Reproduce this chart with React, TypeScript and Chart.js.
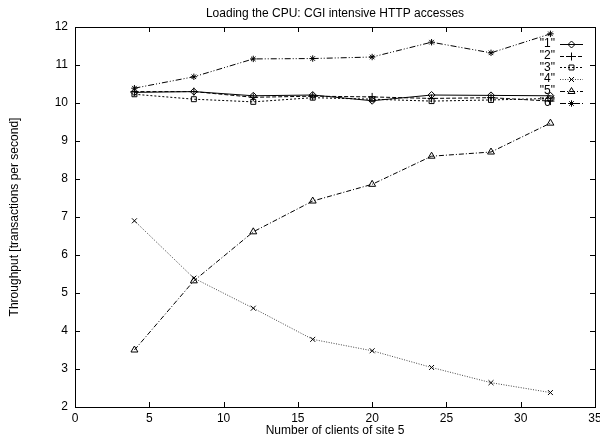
import React, { useEffect, useRef } from 'react';
import { Chart, registerables } from 'chart.js';
import { drawPoint } from 'chart.js/helpers';

Chart.register(...registerables);

const clients = [4, 8, 12, 16, 20, 24, 28, 32];
const series1 = [10.28, 10.30, 10.19, 10.21, 10.06, 10.21, 10.20, 10.19];
const series2 = [10.30, 10.30, 10.15, 10.18, 10.16, 10.12, 10.14, 10.05];
const series3 = [10.23, 10.10, 10.03, 10.14, 10.10, 10.05, 10.08, 10.12];
const series4 = [6.90, 5.39, 4.60, 3.78, 3.48, 3.04, 2.64, 2.38];
const series5 = [3.50, 5.32, 6.61, 7.42, 7.86, 8.60, 8.71, 9.47];
const series6 = [10.39, 10.69, 11.16, 11.17, 11.21, 11.60, 11.32, 11.82];
const seriesLabels = ['"1"', '"2"', '"3"', '"4"', '"5"', '"6"'];
const titleText = 'Loading the CPU: CGI intensive HTTP accesses';
const xTitle = 'Number of clients of site 5';
const yTitle = 'Throughput [transactions per second]';

const FONT = "'Liberation Sans', Arial, Helvetica, sans-serif";
const FS = 12;

const styles = [
  { dash: [], point: 'rectRot', r: 3.5, color: '#000' },
  { dash: [4, 2], point: 'cross', r: 4, color: '#000' },
  { dash: [2, 2], point: 'rect', r: 3.5, color: '#000' },
  { dash: [1, 1.5], point: 'crossRot', r: 3.5, color: '#444' },
  { dash: [5, 2, 1, 2], point: 'triangle', r: 4, color: '#000' },
  { dash: [6, 2, 1, 2, 1, 2], point: 'star', r: 3.2, color: '#000' },
];

const allSeries = [series1, series2, series3, series4, series5, series6];

const framePlugin = {
  id: 'gnuFrame',
  afterDraw(chart: any) {
    const { ctx, chartArea: a, scales } = chart;
    const xs = scales.x;
    const ys = scales.y;
    ctx.save();
    // title, centred over the plot area
    ctx.fillStyle = '#000';
    ctx.font = `${FS}px ${FONT}`;
    ctx.textAlign = 'center';
    ctx.textBaseline = 'middle';
    ctx.fillText(titleText, (a.left + a.right) / 2, 14);

    ctx.strokeStyle = '#000';
    ctx.lineWidth = 1;
    ctx.setLineDash([]);
    ctx.strokeRect(Math.round(a.left) + 0.5, Math.round(a.top) + 0.5, Math.round(a.right - a.left), Math.round(a.bottom - a.top));
    const tl = 5;
    ctx.beginPath();
    xs.ticks.forEach((t: any) => {
      const px = Math.round(xs.getPixelForValue(t.value)) + 0.5;
      ctx.moveTo(px, a.bottom);
      ctx.lineTo(px, a.bottom - tl);
      ctx.moveTo(px, a.top);
      ctx.lineTo(px, a.top + tl);
    });
    ys.ticks.forEach((t: any) => {
      const py = Math.round(ys.getPixelForValue(t.value)) + 0.5;
      ctx.moveTo(a.left, py);
      ctx.lineTo(a.left + tl, py);
      ctx.moveTo(a.right, py);
      ctx.lineTo(a.right - tl, py);
    });
    ctx.stroke();

    // legend (gnuplot style: text then sample)
    ctx.font = `${FS}px ${FONT}`;
    ctx.textAlign = 'right';
    ctx.textBaseline = 'middle';
    chart.data.datasets.forEach((ds: any, i: number) => {
      const y = 44 + i * 11.7;
      ctx.fillStyle = '#000';
      ctx.fillText(ds.label, 555, y);
      ctx.strokeStyle = ds.borderColor;
      ctx.lineWidth = 1;
      ctx.setLineDash(ds.borderDash || []);
      ctx.beginPath();
      ctx.moveTo(560, Math.round(y) + 0.5);
      ctx.lineTo(583, Math.round(y) + 0.5);
      ctx.stroke();
      ctx.setLineDash([]);
      ctx.strokeStyle = '#000';
      ctx.fillStyle = 'rgba(0,0,0,0)';
      drawPoint(ctx, { pointStyle: ds.pointStyle, radius: ds.pointRadius, rotation: 0, borderWidth: 1 }, 571.5, Math.round(y) + 0.5);
    });
    ctx.restore();
  },
};

export default function App() {
  const ref = useRef<HTMLCanvasElement>(null);
  useEffect(() => {
    document.body.style.margin = '0';
    const datasets = allSeries.map((s, i) => ({
      label: seriesLabels[i],
      data: clients.map((c, j) => ({ x: c, y: s[j] })),
      borderColor: styles[i].color,
      borderWidth: 1,
      borderDash: styles[i].dash,
      pointStyle: styles[i].point,
      pointRadius: styles[i].r,
      pointBorderColor: '#000',
      pointBackgroundColor: 'rgba(0,0,0,0)',
      pointBorderWidth: 1,
      tension: 0,
      fill: false,
    }));
    const chart = new Chart(ref.current as HTMLCanvasElement, {
      type: 'line',
      data: { datasets },
      options: {
        animation: false,
        responsive: false,
        layout: { padding: { left: 0, right: 5, top: 27, bottom: 0 } },
        plugins: {
          legend: { display: false },
          tooltip: { enabled: false },
          title: { display: false },
        },
        scales: {
          x: {
            type: 'linear',
            min: 0,
            max: 35,
            ticks: { stepSize: 5, color: '#000', padding: 4, font: { family: FONT, size: FS }, maxRotation: 0 },
            grid: { display: false, drawTicks: false },
            border: { display: false },
            title: { display: true, text: xTitle, color: '#000', font: { family: FONT, size: FS }, padding: { top: 0, bottom: 1 } },
            afterFit: (s: any) => { s.height = 32; s.paddingLeft = 0; s.paddingRight = 0; },
          },
          y: {
            type: 'linear',
            min: 2,
            max: 12,
            ticks: { stepSize: 1, color: '#000', padding: 7, font: { family: FONT, size: FS } },
            grid: { display: false, drawTicks: false },
            border: { display: false },
            title: { display: true, text: yTitle, color: '#000', font: { family: FONT, size: FS }, padding: { top: 7, bottom: 0 } },
            afterFit: (s: any) => { s.width = 75; s.paddingTop = 0; s.paddingBottom = 0; },
          },
        },
      } as any,
      plugins: [framePlugin],
    });
    return () => chart.destroy();
  }, []);
  return (
    <div style={{ position: 'absolute', left: 0, top: 0, width: 600, height: 439, background: '#fff' }}>
      <canvas ref={ref} width={600} height={439} />
    </div>
  );
}
